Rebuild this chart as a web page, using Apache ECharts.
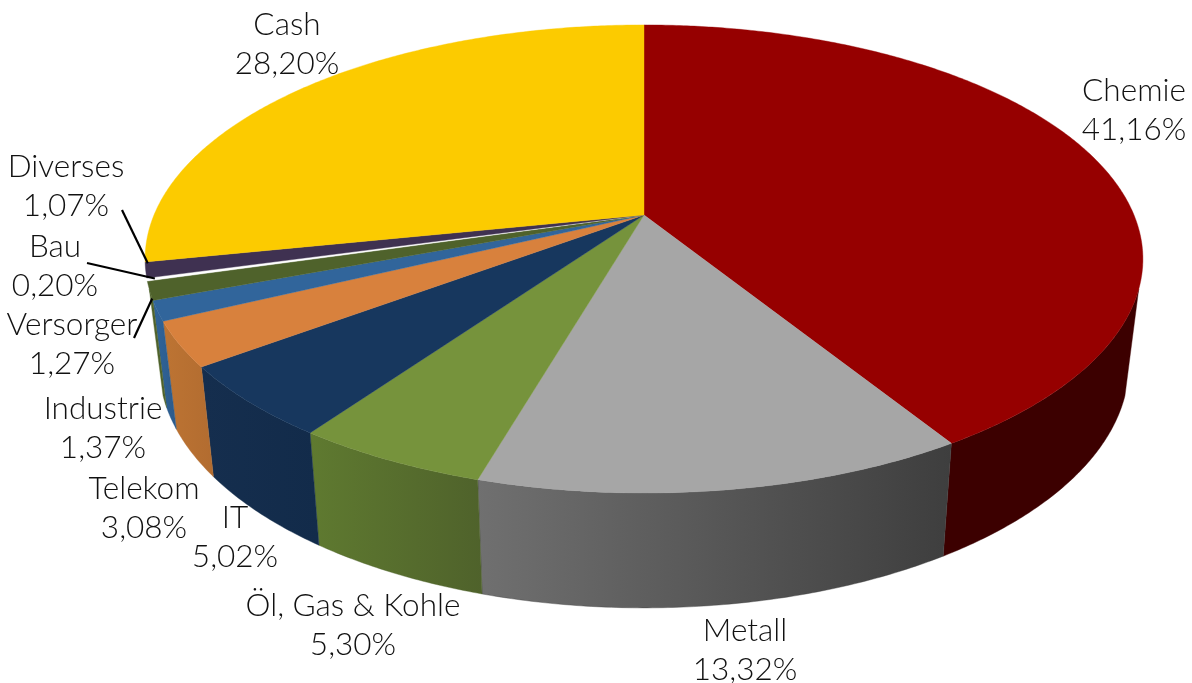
<!DOCTYPE html>
<html><head><meta charset="utf-8">
<style>html,body{margin:0;padding:0;background:#fff}#c{width:1192px;height:683px}</style>
<script src="https://cdn.jsdelivr.net/npm/echarts@6/dist/echarts.min.js"></script>
</head><body><div id="c"></div>
<script>
const categories = ['Chemie','Metall','Öl, Gas & Kohle','IT','Telekom','Industrie','Versorger','Bau','Diverses','Cash'];
const shares = [41.16,13.32,5.30,5.02,3.08,1.37,1.27,0.20,1.07,28.20];

// styling and layout, separate from the data
const topColors = ['#960000','#a6a6a6','#76933c','#17375e','#d8813d','#31659b','#4f622b','#ffffff','#3f3151','#fccb00'];
const wallLeft  = ['#3c0000','#707070','#5f7a30','#152e4e','#bd7433','#31659b','#4f622b','#ffffff','#3f3151','#fccb00'];
const wallRight = ['#3c0000','#3e3e3e','#4f622b','#122b4a','#b26c30','#2b5a8a','#4f622b','#ffffff','#3f3151','#fccb00'];
const labelCenters = [[1134,110],[745,650],[353,625],[235,537],[144,508],[103,428],[72,344],[55,266],[66,186],[287,44]];
const leaderStarts = {6:[134,338],7:[87,263],8:[122,210]};
const leaderEnds = {6:[0.1,1],7:[0.5,0.985],8:[0.9,0.995]};

const topRim = {cx:644,cy:215,A:225.8,B:490,k:0.188};
const lowRim = {cx:644,cy:319,A:234,B:476,k:0.19};
const wallFrom = 108, wallTo = 252;

const total = shares.reduce((a,b)=>a+b,0);
const starts = []; shares.reduce((acc,v,i)=>{starts[i]=acc;return acc+v;},0);
const angle = p => p/total*360;
function rim(r,deg,m=1){
  const t=deg*Math.PI/180,u=m*Math.sin(t),v=-m*Math.cos(t),w=1-r.k*v;
  return [r.cx+r.B*u/w, r.cy+r.A*v/w];
}
function arc(r,a,b){const n=Math.max(2,Math.ceil(Math.abs(b-a)*2));const out=[];for(let i=0;i<=n;i++)out.push(rim(r,a+(b-a)*i/n));return out;}

const ids = categories.map((_,i)=>i);
const chart = echarts.init(document.getElementById('c'),null,{renderer:'canvas'});
chart.setOption({
  animation:false,
  series:[
    {type:'custom',coordinateSystem:'none',silent:true,data:ids,z:1,
     renderItem(p,api){
      const i=api.value(0),a=Math.max(angle(starts[i]),wallFrom),b=Math.min(angle(starts[i]+shares[i]),wallTo);
      if(b<=a)return {type:'group',children:[]};
      const pts=arc(topRim,a,b).concat(arc(lowRim,b,a));
      return {type:'polygon',shape:{points:pts},style:{
        fill:{type:'linear',x:0,y:0,x2:1,y2:0,colorStops:[{offset:0,color:wallLeft[i]},{offset:1,color:wallRight[i]}]},
        stroke:wallRight[i],lineWidth:0.4}};
     }},
    {type:'custom',coordinateSystem:'none',silent:true,data:ids,z:2,
     renderItem(p,api){
      const i=api.value(0),a=angle(starts[i]),b=angle(starts[i]+shares[i]);
      const pts=[[topRim.cx,topRim.cy]].concat(arc(topRim,a,b));
      return {type:'polygon',shape:{points:pts},style:{fill:topColors[i],stroke:topColors[i],lineWidth:0.4}};
     }},
    {type:'custom',coordinateSystem:'none',silent:true,data:ids,z:3,
     renderItem(p,api){
      const i=api.value(0),kids=[];
      const s=leaderStarts[i];
      if(s){const f=leaderEnds[i],e=rim(topRim,angle(starts[i]+shares[i]*f[0]),f[1]);
        kids.push({type:'line',shape:{x1:s[0],y1:s[1],x2:e[0],y2:e[1]},style:{stroke:'#000',lineWidth:2.2}});}
      const c=labelCenters[i];
      kids.push({type:'text',style:{x:c[0],y:c[1],text:categories[i]+'\n'+shares[i].toFixed(2).replace('.',',')+'%',
        align:'center',verticalAlign:'middle',font:'300 31.5px Lato, sans-serif',lineHeight:39,fill:'#111'}});
      return {type:'group',children:kids};
     }}
  ]
});
</script></body></html>
